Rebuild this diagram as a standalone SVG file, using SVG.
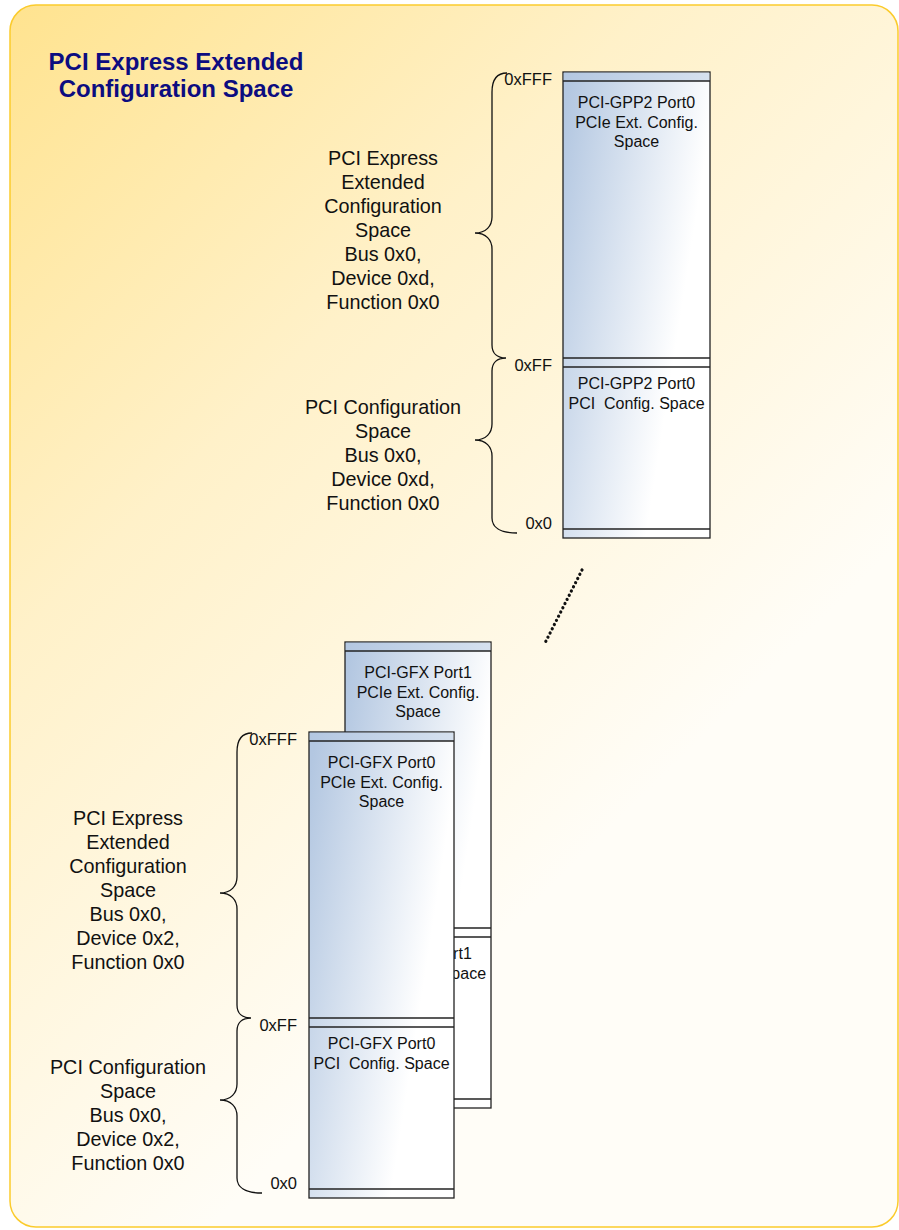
<svg xmlns="http://www.w3.org/2000/svg" width="899" height="1230" viewBox="0 0 899 1230">
<defs>
<linearGradient id="bg" gradientUnits="userSpaceOnUse" x1="10" y1="5" x2="720" y2="720">
<stop offset="0" stop-color="#FFE38F"/>
<stop offset="0.45" stop-color="#FFF1C9"/>
<stop offset="1" stop-color="#FFFDF7"/>
</linearGradient>
<linearGradient id="blk" x1="0" y1="0.1" x2="0.9" y2="0.55">
<stop offset="0" stop-color="#B3C7E1"/>
<stop offset="0.9" stop-color="#FFFFFF"/>
</linearGradient>
<linearGradient id="strip" x1="0" y1="0" x2="1" y2="0">
<stop offset="0" stop-color="#B3C7E1"/>
<stop offset="1" stop-color="#D6E1EF"/>
</linearGradient>
<style>
.blk{fill:url(#blk);stroke:#222;stroke-width:1.3}
.strip{fill:url(#strip);stroke:none}
.ln{stroke:#222;stroke-width:1.3;fill:none}
.bt{font-family:"Liberation Sans",Arial,sans-serif;font-size:16px;fill:#111;text-anchor:middle}
.lb{font-family:"Liberation Sans",Arial,sans-serif;font-size:19.8px;fill:#111;text-anchor:middle}
.ad{font-family:"Liberation Sans",Arial,sans-serif;font-size:16.5px;fill:#111;text-anchor:end}
.br{stroke:#111;stroke-width:1.3;fill:none}
.title{font-family:"Liberation Sans",Arial,sans-serif;font-size:24px;font-weight:bold;fill:#0C0C80;text-anchor:middle}
</style>
</defs>
<rect x="10" y="5" width="888" height="1222" rx="26" fill="url(#bg)" stroke="#FBCB2C" stroke-width="1.5"/>
<g id="title">
<text class="title" x="176" y="70">PCI Express Extended</text>
<text class="title" x="176" y="97">Configuration Space</text>
</g>

<g id="gpp2-port0">
<rect class="blk" x="563" y="72" width="147" height="466"/>
<rect class="strip" x="563.7" y="72.7" width="145.6" height="8.3"/>
<line class="ln" x1="563" y1="81" x2="710" y2="81"/>
<line class="ln" x1="563" y1="358" x2="710" y2="358"/>
<line class="ln" x1="563" y1="367" x2="710" y2="367"/>
<line class="ln" x1="563" y1="529" x2="710" y2="529"/>
<text class="bt" x="636.5" y="108">PCI-GPP2 Port0</text>
<text class="bt" x="636.5" y="128">PCIe Ext. Config.</text>
<text class="bt" x="636.5" y="147">Space</text>
<text class="bt" x="636.5" y="389">PCI-GPP2 Port0</text>
<text class="bt" x="636.5" y="409" xml:space="preserve">PCI  Config. Space</text>
</g>

<g id="gpp2-labels">
<text class="ad" x="552" y="85">0xFFF</text>
<text class="ad" x="552" y="371">0xFF</text>
<text class="ad" x="552" y="529">0x0</text>
<text class="lb" x="383" y="165">PCI Express</text>
<text class="lb" x="383" y="189">Extended</text>
<text class="lb" x="383" y="213">Configuration</text>
<text class="lb" x="383" y="237">Space</text>
<text class="lb" x="383" y="261">Bus 0x0,</text>
<text class="lb" x="383" y="285">Device 0xd,</text>
<text class="lb" x="383" y="309">Function 0x0</text>
<text class="lb" x="383" y="414">PCI Configuration</text>
<text class="lb" x="383" y="438">Space</text>
<text class="lb" x="383" y="462">Bus 0x0,</text>
<text class="lb" x="383" y="486">Device 0xd,</text>
<text class="lb" x="383" y="510">Function 0x0</text>
</g>

<g id="gfx-port1">
<rect class="blk" x="345" y="642" width="146" height="466"/>
<rect class="strip" x="345.7" y="642.7" width="144.6" height="8.3"/>
<line class="ln" x1="345" y1="651" x2="491" y2="651"/>
<line class="ln" x1="345" y1="928" x2="491" y2="928"/>
<line class="ln" x1="345" y1="937" x2="491" y2="937"/>
<line class="ln" x1="345" y1="1099" x2="491" y2="1099"/>
<text class="bt" x="418" y="678">PCI-GFX Port1</text>
<text class="bt" x="418" y="698">PCIe Ext. Config.</text>
<text class="bt" x="418" y="717">Space</text>
<text class="bt" x="418" y="959">PCI-GFX Port1</text>
<text class="bt" x="418" y="979" xml:space="preserve">PCI  Config. Space</text>
</g>

<g id="gfx-port0">
<rect class="blk" x="309" y="732" width="145" height="466"/>
<rect class="strip" x="309.7" y="732.7" width="143.6" height="8.3"/>
<line class="ln" x1="309" y1="741" x2="454" y2="741"/>
<line class="ln" x1="309" y1="1018" x2="454" y2="1018"/>
<line class="ln" x1="309" y1="1027" x2="454" y2="1027"/>
<line class="ln" x1="309" y1="1189" x2="454" y2="1189"/>
<text class="bt" x="381.5" y="768">PCI-GFX Port0</text>
<text class="bt" x="381.5" y="788">PCIe Ext. Config.</text>
<text class="bt" x="381.5" y="807">Space</text>
<text class="bt" x="381.5" y="1049">PCI-GFX Port0</text>
<text class="bt" x="381.5" y="1069" xml:space="preserve">PCI  Config. Space</text>
</g>

<g id="gfx-labels">
<text class="ad" x="297" y="745">0xFFF</text>
<text class="ad" x="297" y="1031">0xFF</text>
<text class="ad" x="297" y="1189">0x0</text>
<text class="lb" x="128" y="825">PCI Express</text>
<text class="lb" x="128" y="849">Extended</text>
<text class="lb" x="128" y="873">Configuration</text>
<text class="lb" x="128" y="897">Space</text>
<text class="lb" x="128" y="921">Bus 0x0,</text>
<text class="lb" x="128" y="945">Device 0x2,</text>
<text class="lb" x="128" y="969">Function 0x0</text>
<text class="lb" x="128" y="1074">PCI Configuration</text>
<text class="lb" x="128" y="1098">Space</text>
<text class="lb" x="128" y="1122">Bus 0x0,</text>
<text class="lb" x="128" y="1146">Device 0x2,</text>
<text class="lb" x="128" y="1170">Function 0x0</text>
</g>

<g id="connectors">
<path class="br" d="M507,73 C497,73 492,80 492,92 L492,217 C492,226 486,233 475,233 C486,233 492,240 492,249 L492,345 C492,353 497,358 506,358 C497,358 492,363 492,371 L492,424 C492,433 486,440 475,440 C486,440 492,447 492,456 L492,518 C492,527 500,533 517,533"/>
<path class="br" transform="translate(-255,660)" d="M507,73 C497,73 492,80 492,92 L492,217 C492,226 486,233 475,233 C486,233 492,240 492,249 L492,345 C492,353 497,358 506,358 C497,358 492,363 492,371 L492,424 C492,433 486,440 475,440 C486,440 492,447 492,456 L492,518 C492,527 500,533 517,533"/>
<line x1="582" y1="570" x2="545" y2="643" stroke="#111" stroke-width="3.2" stroke-dasharray="0.1 4.6" stroke-linecap="round"/>
</g>
</svg>
